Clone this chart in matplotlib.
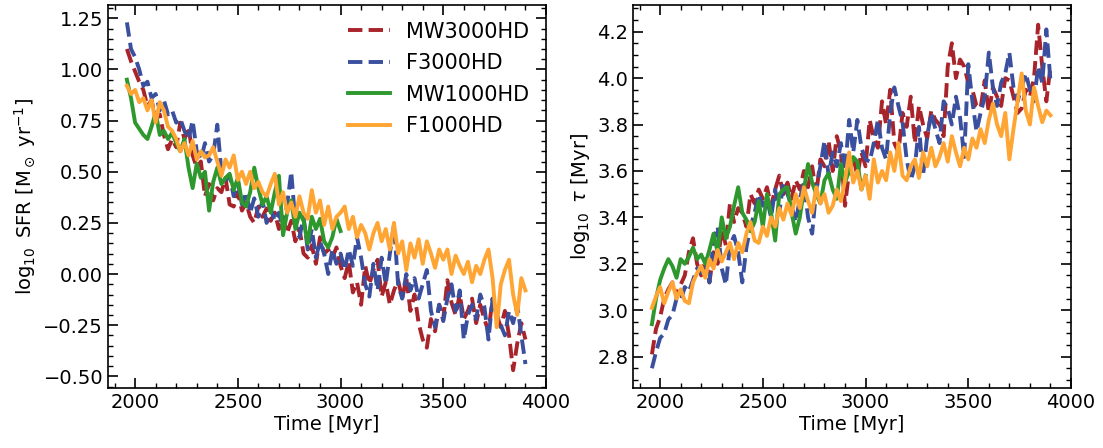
import numpy as np
import matplotlib
matplotlib.use("Agg")
import matplotlib.pyplot as plt
from matplotlib.ticker import MultipleLocator

# ---------------- data ----------------
T_START, T_STEP = 1960, 20
time_long = np.arange(98) * T_STEP + T_START       # 1960 ... 3900 Myr
time_short = np.arange(53) * T_STEP + T_START      # 1960 ... 3000 Myr

labels = ["MW3000HD", "F3000HD", "MW1000HD", "F1000HD"]

sfr_mw3000 = [1.10, 1.04, 0.99, 0.94, 0.90, 0.82, 0.85, 0.76, 0.78, 0.68,
              0.61, 0.66, 0.62, 0.74, 0.66, 0.72, 0.58, 0.52, 0.55, 0.38,
              0.44, 0.36, 0.42, 0.40, 0.47, 0.34, 0.33, 0.40, 0.31, 0.35,
              0.28, 0.25, 0.33, 0.28, 0.32, 0.26, 0.30, 0.22, 0.28, 0.20,
              0.26, 0.16, 0.22, 0.10, 0.08, 0.14, 0.05, 0.18, 0.10, 0.12,
              0.08, 0.13, 0.04, -0.02, 0.06, -0.09, -0.04, -0.15, 0.04, -0.05,
              0.02, 0.07, -0.11, -0.04, -0.15, -0.08, -0.03, -0.12, -0.02, -0.18,
              -0.10, -0.24, -0.32, -0.36, -0.22, -0.28, -0.15, -0.22, -0.03, -0.14,
              -0.20, -0.10, -0.22, -0.18, -0.12, -0.24, -0.15, -0.22, -0.28, -0.12,
              -0.20, -0.26, -0.18, -0.30, -0.47, -0.34, -0.24, -0.32]

sfr_f3000 = [1.23, 1.10, 1.06, 1.00, 0.92, 0.94, 0.86, 0.88, 0.80, 0.85,
             0.78, 0.80, 0.74, 0.76, 0.70, 0.66, 0.75, 0.60, 0.56, 0.64,
             0.55, 0.58, 0.73, 0.50, 0.46, 0.48, 0.38, 0.45, 0.34, 0.40,
             0.30, 0.37, 0.28, 0.36, 0.25, 0.32, 0.26, 0.30, 0.22, 0.34,
             0.50, 0.25, 0.18, 0.28, 0.12, 0.22, 0.08, 0.16, 0.10, 0.00,
             0.12, 0.05, 0.10, 0.02, 0.12, 0.04, 0.18, 0.08, -0.05, -0.11,
             0.05, -0.08, 0.08, -0.05, 0.10, 0.24, -0.05, -0.12, 0.00, -0.08,
             -0.02, -0.12, -0.05, 0.02, -0.18, -0.26, -0.15, -0.23, -0.12, -0.05,
             -0.18, -0.08, -0.32, -0.20, -0.15, -0.22, -0.10, -0.16, -0.32, -0.12,
             -0.20, -0.25, -0.30, -0.18, -0.24, -0.15, -0.30, -0.44]

sfr_mw1000 = [0.95, 0.86, 0.74, 0.71, 0.68, 0.66, 0.72, 0.79, 0.68, 0.70,
              0.66, 0.69, 0.64, 0.60, 0.66, 0.52, 0.42, 0.54, 0.47, 0.50,
              0.31, 0.45, 0.52, 0.44, 0.47, 0.49, 0.41, 0.47, 0.35, 0.33,
              0.40, 0.52, 0.42, 0.34, 0.38, 0.30, 0.40, 0.48, 0.19, 0.30,
              0.36, 0.22, 0.30, 0.26, 0.15, 0.28, 0.22, 0.27, 0.16, 0.13,
              0.18, 0.27, 0.21]

sfr_f1000 = [0.92, 0.88, 0.90, 0.84, 0.86, 0.80, 0.85, 0.74, 0.84, 0.80,
             0.72, 0.70, 0.66, 0.60, 0.64, 0.58, 0.65, 0.56, 0.60, 0.57,
             0.58, 0.62, 0.55, 0.48, 0.56, 0.52, 0.58, 0.46, 0.50, 0.44,
             0.50, 0.42, 0.45, 0.40, 0.38, 0.44, 0.49, 0.34, 0.40, 0.30,
             0.35, 0.28, 0.38, 0.30, 0.27, 0.41, 0.30, 0.36, 0.24, 0.33,
             0.22, 0.28, 0.30, 0.33, 0.22, 0.28, 0.18, 0.24, 0.20, 0.12,
             0.20, 0.25, 0.16, 0.22, 0.12, 0.25, 0.10, 0.16, 0.02, 0.15,
             0.08, 0.17, 0.05, 0.16, 0.10, 0.03, 0.12, 0.07, 0.12, 0.00,
             0.09, 0.04, 0.00, 0.06, -0.04, 0.04, 0.00, 0.07, 0.12, -0.02,
             -0.26, -0.05, 0.02, 0.07, -0.10, -0.20, -0.02, -0.08]

tau_mw3000 = [2.81, 2.92, 2.97, 3.05, 3.09, 3.12, 3.06, 3.11, 3.15, 3.25,
              3.31, 3.20, 3.15, 3.22, 3.12, 3.25, 3.20, 3.35, 3.28, 3.46,
              3.38, 3.44, 3.42, 3.36, 3.50, 3.46, 3.52, 3.48, 3.53, 3.45,
              3.52, 3.58, 3.50, 3.55, 3.48, 3.56, 3.52, 3.60, 3.53, 3.62,
              3.50, 3.65, 3.62, 3.73, 3.60, 3.75, 3.68, 3.45, 3.60, 3.66,
              3.58, 3.68, 3.62, 3.82, 3.74, 3.70, 3.90, 3.80, 3.95, 3.72,
              3.68, 3.85, 3.79, 3.92, 3.72, 3.88, 3.80, 3.74, 3.86, 3.82,
              3.80, 3.75, 4.05, 4.15, 4.00, 4.08, 4.05, 3.98, 3.95, 3.88,
              3.87, 3.99, 3.85, 3.96, 3.92, 3.88, 4.00, 3.99, 3.92, 3.85,
              3.87, 3.95, 3.92, 4.00, 4.23, 4.05, 3.90, 4.05]

tau_f3000 = [2.75, 2.82, 2.88, 2.90, 2.96, 2.98, 3.05, 3.04, 3.10, 3.08,
             3.13, 3.18, 3.16, 3.22, 3.12, 3.30, 3.36, 3.18, 3.11, 3.28,
             3.32, 3.25, 3.12, 3.27, 3.36, 3.42, 3.50, 3.45, 3.48, 3.40,
             3.52, 3.42, 3.55, 3.50, 3.45, 3.38, 3.48, 3.55, 3.40, 3.33,
             3.52, 3.62, 3.73, 3.58, 3.68, 3.62, 3.72, 3.60, 3.82, 3.68,
             3.82, 3.70, 3.65, 3.64, 3.72, 3.82, 3.70, 3.65, 3.85, 3.96,
             3.88, 3.81, 3.65, 3.56, 3.62, 3.79, 3.58, 3.75, 3.85, 3.78,
             3.72, 3.90, 3.87, 3.80, 3.92, 3.83, 3.66, 4.06, 3.90, 3.77,
             3.85, 3.92, 4.11, 3.96, 3.88, 3.98, 4.02, 4.11, 3.96, 3.90,
             3.96, 4.02, 3.95, 3.90, 4.05, 3.98, 4.21, 3.99]

tau_mw1000 = [2.94, 3.05, 3.13, 3.18, 3.22, 3.19, 3.14, 3.22, 3.20, 3.23,
              3.27, 3.22, 3.24, 3.20, 3.26, 3.33, 3.25, 3.40, 3.31, 3.36,
              3.45, 3.53, 3.42, 3.39, 3.34, 3.38, 3.47, 3.36, 3.50, 3.42,
              3.30, 3.50, 3.52, 3.53, 3.42, 3.33, 3.40, 3.52, 3.63, 3.55,
              3.50, 3.46, 3.56, 3.59, 3.52, 3.48, 3.63, 3.55, 3.60, 3.66,
              3.64, 3.52, 3.58]

tau_f1000 = [3.01, 3.06, 3.10, 3.03, 3.08, 3.12, 3.05, 3.09, 3.04, 3.03,
             3.12, 3.16, 3.19, 3.14, 3.22, 3.18, 3.26, 3.21, 3.25, 3.29,
             3.22, 3.29, 3.25, 3.33, 3.38, 3.30, 3.29, 3.36, 3.32, 3.40,
             3.36, 3.44, 3.39, 3.46, 3.41, 3.50, 3.44, 3.53, 3.47, 3.42,
             3.53, 3.46, 3.50, 3.42, 3.45, 3.52, 3.47, 3.56, 3.68, 3.55,
             3.60, 3.52, 3.58, 3.48, 3.65, 3.55, 3.60, 3.56, 3.68, 3.60,
             3.72, 3.58, 3.56, 3.62, 3.65, 3.57, 3.68, 3.62, 3.70, 3.62,
             3.66, 3.72, 3.64, 3.75, 3.68, 3.62, 3.70, 3.65, 3.74, 3.70,
             3.78, 3.72, 3.82, 3.89, 3.80, 3.75, 3.85, 3.65, 3.78, 3.90,
             4.02, 3.86, 3.80, 3.96, 3.88, 3.81, 3.86, 3.84]

# ---------------- style ----------------
colors = ["#a8232a", "#3a4f9e", "#2e982e", "#ffa534"]
styles = ["--", "--", "-", "-"]
LW = 2.8
FS = 14

plt.rcParams["font.family"] = ["DejaVu Sans"]
plt.rcParams["font.size"] = FS

fig = plt.figure(figsize=(11.03, 4.48), dpi=100)
W, H = 1103, 448
ax1 = fig.add_axes([108 / W, (H - 388) / H, 438 / W, 383 / H])
ax2 = fig.add_axes([633 / W, (H - 388) / H, 438 / W, 383 / H])

sfr_series = [(time_long, sfr_mw3000), (time_long, sfr_f3000),
              (time_short, sfr_mw1000), (time_long, sfr_f1000)]
tau_series = [(time_long, tau_mw3000), (time_long, tau_f3000),
              (time_short, tau_mw1000), (time_long, tau_f1000)]

for (t, v), c, ls, lab in zip(sfr_series, colors, styles, labels):
    ax1.plot(t, v, color=c, ls=ls, lw=LW, label=lab)
for (t, v), c, ls, lab in zip(tau_series, colors, styles, labels):
    ax2.plot(t, v, color=c, ls=ls, lw=LW, label=lab)

ax1.set_xlim(1868, 4000)
ax2.set_xlim(1868, 4000)
ax1.set_ylim(-0.557, 1.315)
ax2.set_ylim(2.665, 4.315)

for ax in (ax1, ax2):
    ax.xaxis.set_major_locator(MultipleLocator(500))
    ax.xaxis.set_minor_locator(MultipleLocator(100))
    ax.tick_params(which="both", direction="in", top=True, right=True,
                   labelsize=FS)
    ax.tick_params(which="major", length=7, width=1.2)
    ax.tick_params(which="minor", length=3.5, width=1.0)
    for sp in ax.spines.values():
        sp.set_linewidth(1.2)
    ax.set_xlabel("Time [Myr]", fontsize=FS, labelpad=2)

ax1.yaxis.set_major_locator(MultipleLocator(0.25))
ax1.yaxis.set_minor_locator(MultipleLocator(0.05))
ax2.yaxis.set_major_locator(MultipleLocator(0.2))
ax2.yaxis.set_minor_locator(MultipleLocator(0.05))

ax1.set_ylabel(r"$\log_{10}$ SFR [M$_\odot$ yr$^{-1}$]", fontsize=FS)
ax2.set_ylabel(r"$\log_{10}$ $\tau$ [Myr]", fontsize=FS)

ax1.legend(loc="upper right", frameon=False, fontsize=15,
           handlelength=2.0, labelspacing=0.55, borderaxespad=0.4)

fig.savefig("out.png", dpi=100)
